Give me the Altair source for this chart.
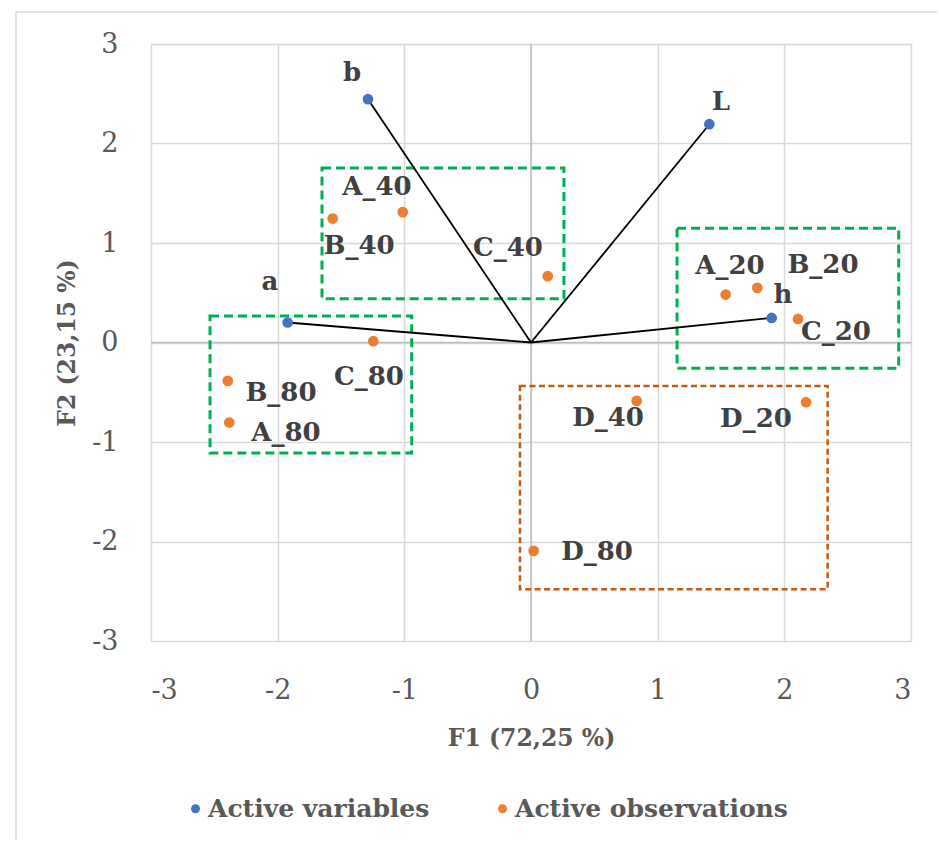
import altair as alt
import pandas as pd

# ---- data ----
var_names = ["b", "L", "a", "h"]
var_x = [-1.287, 1.408, -1.921, 1.900]
var_y = [2.445, 2.194, 0.201, 0.247]
var_lx = [-1.413, 1.500, -2.061, 1.989]
var_ly = [2.707, 2.418, 0.606, 0.475]

obs_names = ["A_40", "B_40", "C_40", "C_80", "B_80", "A_80",
             "A_20", "B_20", "C_20", "D_40", "D_20", "D_80"]
obs_x = [-1.013, -1.566, 0.132, -1.245, -2.394, -2.382,
         1.537, 1.787, 2.108, 0.834, 2.171, 0.021]
obs_y = [1.310, 1.246, 0.666, 0.013, -0.386, -0.804,
         0.482, 0.549, 0.237, -0.587, -0.600, -2.094]
obs_lx = [-1.216, -1.358, -0.182, -1.279, -1.974, -1.934,
          1.571, 2.305, 2.408, 0.608, 1.776, 0.521]
obs_ly = [1.561, 0.968, 0.948, -0.349, -0.509, -0.912,
          0.767, 0.777, 0.104, -0.761, -0.771, -2.106]

box_group = ["green", "green", "green", "orange"]
box_x1 = [-1.65, -2.534, 1.153, -0.087]
box_x2 = [0.26, -0.942, 2.903, 2.342]
box_y1 = [1.755, 0.267, 1.149, -0.436]
box_y2 = [0.44, -1.11, -0.258, -2.479]

ticks = [-3, -2, -1, 0, 1, 2, 3]
legend_names = ["Active variables", "Active observations"]

# ---- tables ----
points = pd.DataFrame({
    "name": var_names + obs_names,
    "x": var_x + obs_x,
    "y": var_y + obs_y,
    "lx": var_lx + obs_lx,
    "ly": var_ly + obs_ly,
    "kind": [legend_names[0]] * len(var_names) + [legend_names[1]] * len(obs_names),
})
vectors = pd.DataFrame({"name": var_names, "x": var_x, "y": var_y,
                        "x0": [0.0] * 4, "y0": [0.0] * 4})
boxes = pd.DataFrame({"g": box_group, "x1": box_x1, "x2": box_x2,
                      "y1": box_y1, "y2": box_y2})

SERIF = "DejaVu Serif"
xs = alt.Scale(domain=[-3, 3], nice=False, zero=False)
ys = alt.Scale(domain=[-3, 3], nice=False, zero=False)

x_axis = alt.Axis(values=ticks, labelExpr="'' + datum.value", grid=True, gridColor="#D9D9D9",
                  gridWidth=1.5, domain=False, ticks=False, labelPadding=36, labelFont=SERIF,
                  labelFontSize=27, labelColor="#595959",
                  title="F1 (72,25 %)", titleFont=SERIF, titleFontSize=23.5,
                  titleFontWeight="bold", titleColor="#595959",
                  titleY=97, titleBaseline="middle")
y_axis = alt.Axis(values=ticks, labelExpr="'' + datum.value", grid=True, gridColor="#D9D9D9",
                  gridWidth=1.5, domain=False, ticks=False, labelPadding=33, labelFont=SERIF,
                  labelFontSize=27, labelColor="#595959",
                  title="F2 (23,15 %)", titleFont=SERIF, titleFontSize=23.5,
                  titleFontWeight="bold", titleColor="#595959",
                  titleX=-84, titleY=298.5, titleAngle=270, titleBaseline="middle",
                  titleAlign="center")

base_pts = alt.Chart(points)

grid = base_pts.mark_point(opacity=0).encode(
    x=alt.X("x:Q", scale=xs, axis=x_axis),
    y=alt.Y("y:Q", scale=ys, axis=y_axis),
)

zero_x = alt.Chart(alt.Data(values=[{"v": 0}])).mark_rule(color="#BFBFBF", strokeWidth=1.5).encode(
    x=alt.X("v:Q", scale=xs))
zero_y = alt.Chart(alt.Data(values=[{"v": 0}])).mark_rule(color="#BFBFBF", strokeWidth=1.5).encode(
    y=alt.Y("v:Q", scale=ys))

green_boxes = alt.Chart(boxes).transform_filter(alt.datum.g == "green").mark_rect(
    fill=None, fillOpacity=0, stroke="#00B050", strokeWidth=3, strokeDash=[9, 5]).encode(
    x=alt.X("x1:Q", scale=xs), x2="x2:Q", y=alt.Y("y1:Q", scale=ys), y2="y2:Q")
orange_boxes = alt.Chart(boxes).transform_filter(alt.datum.g == "orange").mark_rect(
    fill=None, fillOpacity=0, stroke="#C55A11", strokeWidth=2.5, strokeDash=[6, 3.5]).encode(
    x=alt.X("x1:Q", scale=xs), x2="x2:Q", y=alt.Y("y1:Q", scale=ys), y2="y2:Q")

vec = alt.Chart(vectors).mark_rule(color="black", strokeWidth=1.8).encode(
    x=alt.X("x0:Q", scale=xs), y=alt.Y("y0:Q", scale=ys), x2="x:Q", y2="y:Q")

dots = base_pts.mark_circle(size=115, opacity=1).encode(
    x=alt.X("x:Q", scale=xs), y=alt.Y("y:Q", scale=ys),
    color=alt.Color("kind:N",
                    scale=alt.Scale(domain=legend_names, range=["#4472C4", "#ED7D31"]),
                    sort=legend_names,
                    legend=alt.Legend(title=None, orient="none", direction="horizontal",
                                      legendX=32, legendY=752, columns=2, columnPadding=60,
                                      symbolType="circle", symbolSize=80, labelFont=SERIF,
                                      labelFontSize=25, labelFontWeight="bold", labelLimit=0,
                                      labelColor="#595959", labelOffset=0, padding=0,
                                      symbolStrokeWidth=0)),
)

labels = base_pts.mark_text(font=SERIF, fontSize=26, fontWeight="bold", color="#404040",
                            align="center", baseline="middle").encode(
    x=alt.X("lx:Q", scale=xs), y=alt.Y("ly:Q", scale=ys), text="name:N")

frame_data = alt.Data(values=[{"k": 1}])
frame_left = alt.Chart(frame_data).mark_rule(color="#D9D9D9", strokeWidth=1.5).encode(
    x=alt.value(-135), y=alt.value(-32), y2=alt.value(796))
frame_top = alt.Chart(frame_data).mark_rule(color="#D9D9D9", strokeWidth=1.5).encode(
    x=alt.value(-135), x2=alt.value(786), y=alt.value(-32))

chart = alt.layer(
    grid, zero_x, zero_y, green_boxes, orange_boxes, vec, dots, labels, frame_left, frame_top
).properties(
    width=760, height=597,
    padding={"left": 15, "top": 11, "right": 0, "bottom": 0},
    background="white",
).configure_view(stroke=None)

chart.save("out.html", embed_options={"renderer": "svg", "actions": False})
